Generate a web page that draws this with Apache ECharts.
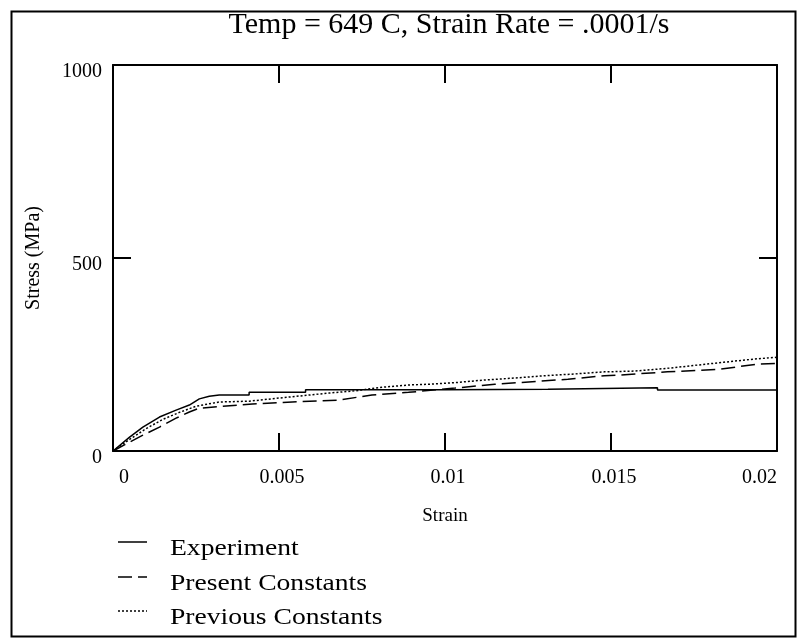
<!DOCTYPE html>
<html>
<head>
<meta charset="utf-8">
<script src="https://cdn.jsdelivr.net/npm/echarts@6/dist/echarts.min.js"></script>
<style>
html,body{margin:0;padding:0;background:#fff;}
#chart{width:801px;height:643px;}
</style>
</head>
<body>
<div id="chart"></div>
<script>
// ---- Data (strain, stress MPa) ----
var titleText = 'Temp = 649 C, Strain Rate = .0001/s';
var xTicks = [0, 0.005, 0.01, 0.015, 0.02];
var yTicks = [0, 500, 1000];
var seriesNames = ['Experiment', 'Present Constants', 'Previous Constants'];

var experiment = [
  [0,0],[0.0005,36],[0.0009,62],[0.0014,88],[0.0019,106],[0.0023,119],[0.0026,135],
  [0.0029,142],[0.0032,145],[0.0041,145],[0.0041,152],[0.0058,152],[0.0058,159],
  [0.0100,159],[0.0131,160],[0.0131,164],[0.0164,164],[0.0164,158],[0.0200,158]
];
var presentConstants = [
  [0,0],[0.0005,23],[0.0009,41],[0.0014,62],[0.0019,85],[0.0023,101],[0.0026,111],
  [0.0032,115],[0.0042,122],[0.0054,127],[0.0068,132],[0.0078,145],[0.0089,152],
  [0.0103,163],[0.0115,173],[0.0122,177],[0.0129,181],[0.0137,186],[0.0148,195],
  [0.0153,197],[0.0167,205],[0.0183,212],[0.0194,225],[0.0200,227]
];
var previousConstants = [
  [0,0],[0.0005,30],[0.0010,58],[0.0015,82],[0.0020,100],[0.0025,116],[0.0032,127],
  [0.0041,129],[0.0051,138],[0.0065,150],[0.0073,156],[0.0081,165],[0.0089,171],
  [0.0095,173],[0.0103,177],[0.0112,184],[0.0121,189],[0.0130,195],[0.0138,199],
  [0.0148,205],[0.0157,207],[0.0168,215],[0.0184,230],[0.0193,238],[0.0200,243]
];

var FONT = '"Liberation Serif", "Times New Roman", serif';
var chart = echarts.init(document.getElementById('chart'), null, {renderer:'canvas'});

function xFmt(v){ return String(parseFloat(v.toFixed(4))); }
function yFmt(v){ return String(v); }

var lineTypes = ['solid', [14,6], [2,2]];
var axisLineStyle = {color:'#000', width:2};
var tickStyle = {show:true, inside:true, length:18, lineStyle:{color:'#000', width:2}};

// legend drawn as graphic (line sample + text)
var legendRowsY = [549, 584, 618];
var legendGraphics = [];
seriesNames.forEach(function(name, i){
  var ly = legendRowsY[i];
  legendGraphics.push({
    type:'line', silent:true,
    shape:{x1:118, y1:ly-7, x2:147, y2:ly-7},
    style:{stroke:'#000', lineWidth:1.5, lineDash: i === 0 ? null : lineTypes[i]}
  });
  legendGraphics.push({
    type:'text', silent:true, x:170, y:ly, scaleX:1.15,
    style:{text:name, fontFamily:FONT, fontSize:24, fill:'#000', align:'left', verticalAlign:'middle'}
  });
});

var option = {
  backgroundColor:'#fff',
  animation:false,
  title:{
    text:titleText, left:444, top:5, textAlign:'center',
    textStyle:{fontFamily:FONT, fontSize:30, fontWeight:'normal', color:'#000'}
  },
  grid:{left:113, right:24, top:65, bottom:192, containLabel:false},
  xAxis:[{
    type:'value', min:0, max:0.02, interval:0.005, position:'bottom',
    name:'Strain', nameLocation:'middle', nameGap:56,
    nameTextStyle:{fontFamily:FONT, fontSize:19, color:'#000'},
    axisLine:{show:true, onZero:false, lineStyle:axisLineStyle},
    axisTick:tickStyle,
    axisLabel:{fontFamily:FONT, fontSize:20, color:'#000', margin:17, formatter:xFmt,
      padding:[0,0,0,6], alignMinLabel:'left', alignMaxLabel:'right'},
    splitLine:{show:false}
  },{
    type:'value', min:0, max:0.02, interval:0.005, position:'top',
    axisLine:{show:true, onZero:false, lineStyle:axisLineStyle},
    axisTick:tickStyle,
    axisLabel:{show:false}, splitLine:{show:false}
  }],
  yAxis:[{
    type:'value', min:0, max:1000, interval:500, position:'left',
    name:'Stress (MPa)', nameLocation:'middle', nameGap:69, nameRotate:90,
    nameTextStyle:{fontFamily:FONT, fontSize:20, color:'#000'},
    axisLine:{show:true, onZero:false, lineStyle:axisLineStyle},
    axisTick:tickStyle,
    axisLabel:{fontFamily:FONT, fontSize:20, color:'#000', margin:11, formatter:yFmt,
      verticalAlign:'top', lineHeight:14},
    splitLine:{show:false}
  },{
    type:'value', min:0, max:1000, interval:500, position:'right',
    axisLine:{show:true, onZero:false, lineStyle:axisLineStyle},
    axisTick:tickStyle,
    axisLabel:{show:false}, splitLine:{show:false}
  }],
  graphic:[{
    type:'rect', left:9, top:9, silent:true, shape:{width:784, height:625},
    style:{fill:'none', stroke:'#000', lineWidth:2}
  }].concat(legendGraphics),
  series:[{
    name:seriesNames[0], type:'line', data:experiment, symbol:'none', xAxisIndex:0, yAxisIndex:0,
    lineStyle:{color:'#000', width:1.5, type:lineTypes[0]}
  },{
    name:seriesNames[1], type:'line', data:presentConstants, symbol:'none', xAxisIndex:0, yAxisIndex:0,
    lineStyle:{color:'#000', width:1.5, type:lineTypes[1]}
  },{
    name:seriesNames[2], type:'line', data:previousConstants, symbol:'none', xAxisIndex:0, yAxisIndex:0,
    lineStyle:{color:'#000', width:1.5, type:lineTypes[2]}
  }]
};
chart.setOption(option);
</script>
</body>
</html>
